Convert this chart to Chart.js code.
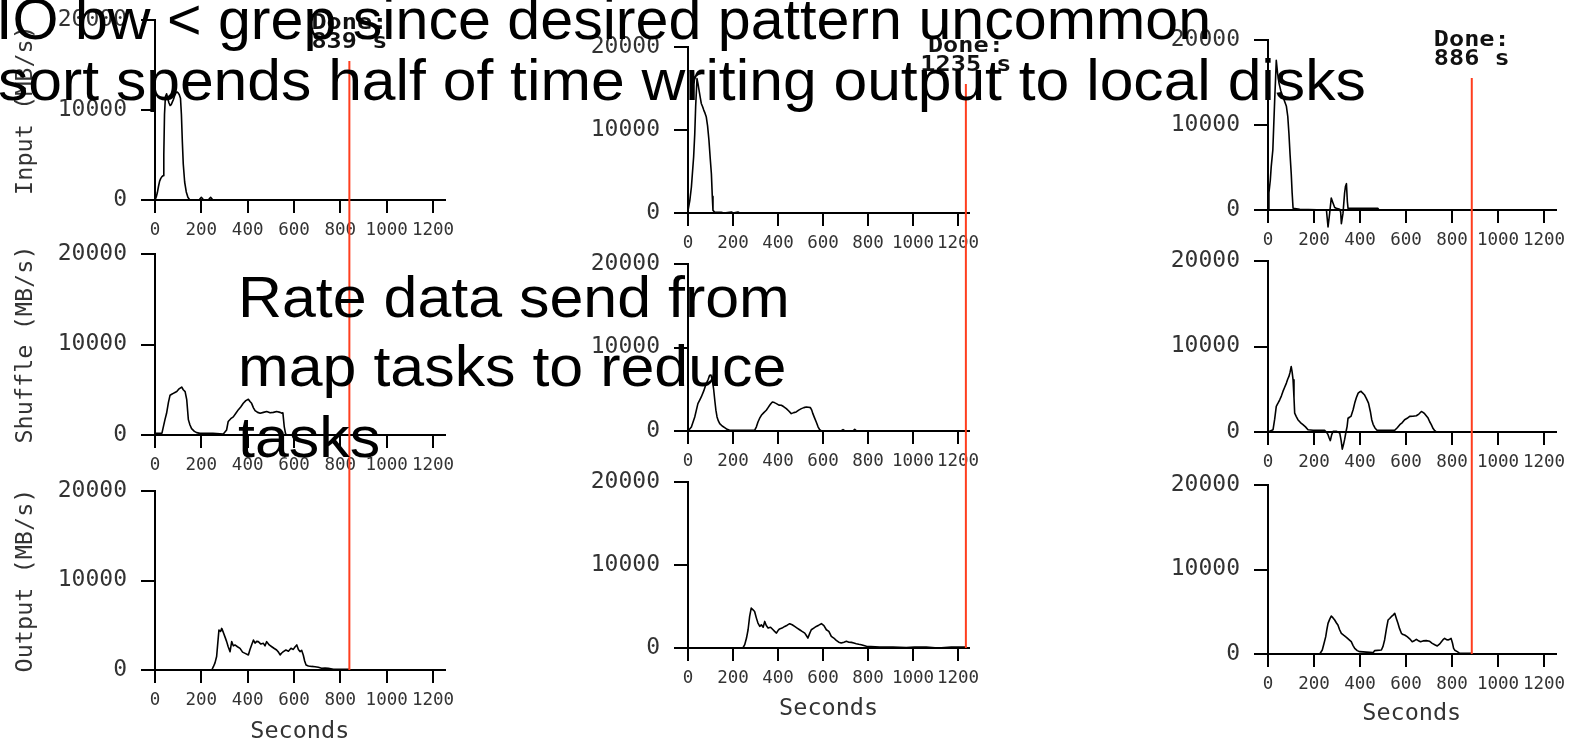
<!DOCTYPE html>
<html>
<head>
<meta charset="utf-8">
<script src="https://cdn.jsdelivr.net/npm/chart.js@4.4.1/dist/chart.umd.min.js"></script>
<style>
html,body{margin:0;padding:0;background:#fff;}
body{width:1573px;height:747px;position:relative;overflow:hidden;}
canvas{position:absolute;}
.note{position:absolute;font-family:'Liberation Sans',Arial,sans-serif;font-size:58px;line-height:58px;white-space:nowrap;color:#000;transform-origin:0 0;z-index:10;}
</style>
</head>
<body>
<div class="note" style="left:-4px;top:-10px;transform:scaleX(1.02)">IO bw &lt; grep since desired pattern uncommon</div>
<div class="note" style="left:-2px;top:51px;transform:scaleX(1.045)">sort spends half of time writing output to local disks</div>
<div class="note" style="left:238px;top:268px;transform:scaleX(1.05)">Rate data send from</div>
<div class="note" style="left:238px;top:337px;transform:scaleX(1.05)">map tasks to reduce</div>
<div class="note" style="left:238px;top:408px;transform:scaleX(1.05)">tasks</div>
<script>
// ---------- data (seconds, MB/s) ----------
const xTicks = [0, 200, 400, 600, 800, 1000, 1200];
const yTicks = [0, 10000, 20000];
const rowLabels = ['Input (MB/s)', 'Shuffle (MB/s)', 'Output (MB/s)'];
const xTitle = 'Seconds';
const doneTimes = [839, 1235, 886];
const doneTitle = 'Done:';

// (a) normal execution
const normalInputT = [0,5,10,15,20,25,30,35,38,41,45,50,55,60,65,70,75,80,85,90,95,100,105,110,114,118,122,128,135,142,150,190,200,210,230,240,250];
const normalInputV = [0,300,800,1500,2100,2400,2600,2700,5000,9500,11500,11800,11300,10800,10500,10600,10900,11200,11600,11900,12000,11900,11700,11300,9500,6500,4000,2000,900,300,0,0,300,0,0,300,0];
const normalShuffleT = [0,30,36,43,50,58,65,72,79,86,94,104,115,122,130,137,144,151,158,170,180,194,250,295,309,316,327,338,349,360,370,381,392,403,410,417,425,432,443,454,468,482,497,511,525,540,548,552,558,564,570];
const normalShuffleV = [200,200,900,1700,2400,3600,4400,4500,4600,4700,4800,5100,5300,5000,4800,3900,1700,1100,700,400,260,180,180,100,550,1500,1800,2000,2400,2800,3100,3500,3800,3950,3700,3500,3000,2700,2500,2400,2500,2600,2450,2500,2600,2500,2400,2450,900,100,0];
const normalOutputT = [0,245,252,259,266,271,276,283,288,295,302,309,316,324,331,338,345,356,367,378,389,403,410,417,425,432,439,446,457,468,475,482,493,504,515,525,533,540,547,554,565,576,587,597,605,612,619,626,633,640,646,652,662,676,691,705,719,734,748,770,805,839];
const normalOutputV = [0,0,370,800,1500,3000,4470,4300,4650,4200,3700,3200,2600,2050,3170,2700,2800,2600,2420,2000,1860,1680,2300,2800,3350,3000,3200,3170,2900,2980,2700,3170,2800,2600,2400,2230,2000,1680,1900,2050,2230,2100,2420,2300,2600,2800,2300,2050,2200,1680,1000,560,450,400,370,300,190,220,190,75,75,75];

// (b) no backup tasks
const noBackupInputT = [0,8,15,25,30,34,40,45,49,54,59,65,70,76,81,87,93,99,104,108,111,119,148,160,193,200,222,230,240];
const noBackupInputV = [300,1500,3100,6750,9500,12800,16200,15500,14800,14000,13200,12800,12400,12000,11600,10500,8800,6500,4700,2000,320,80,80,0,120,0,120,0,0];
const noBackupShuffleT = [0,15,30,44,52,59,70,81,90,96,102,108,114,119,124,129,135,141,152,163,174,185,267,296,304,311,318,326,337,348,356,363,369,375,384,393,404,415,426,437,448,459,470,481,492,504,515,526,535,544,550,555,562,570,578,585,593,680,689,698,733,741,750];
const noBackupShuffleV = [0,480,1680,3280,3700,4080,4800,5680,6200,6680,6700,6080,5000,3680,2500,1680,1200,880,600,400,200,80,80,80,500,1080,1500,1880,2200,2480,2800,3080,3300,3480,3400,3280,3100,3080,2900,2680,2400,2080,2200,2280,2500,2680,2800,2880,2850,2800,2500,2080,1600,1080,500,160,0,0,160,0,0,200,0];
const noBackupOutputT = [0,244,252,260,267,274,281,289,296,304,311,319,326,334,341,348,356,367,378,385,393,400,407,418,430,441,452,463,474,485,496,507,519,526,533,540,548,559,570,581,593,604,615,626,637,648,659,670,681,693,704,715,726,737,748,759,770,793,852,911,970,1007,1059,1111,1170,1237];
const noBackupOutputV = [0,0,400,1200,2200,3800,4800,4600,4400,3600,3000,2600,2800,2500,3200,2700,2400,2500,2200,2000,1800,2100,2300,2400,2600,2750,2930,2800,2600,2400,2200,2000,1800,1500,1200,1700,2200,2400,2600,2750,2930,2700,2200,2000,1400,1200,920,700,600,700,800,700,680,600,520,450,400,200,120,120,40,120,120,0,120,120];

// (c) 200 tasks killed
const killedInputT = [0,4,10,14,21,25,29,33,36,42,48,56,65,72,80,86,91,96,101,105,109,138,250,254,261,268,275,283,290,297,312,316,319,326,333,337,341,345,348,362,478,482];
const killedInputV = [0,2000,3500,5100,7060,10000,12900,15500,17600,16000,14900,14000,13300,12800,12200,11000,9000,6500,4300,2000,200,80,0,0,-2000,-400,1400,800,300,200,80,-300,-1600,-400,2000,2800,3100,1000,200,200,200,0];
const killedShuffleT = [0,22,29,36,44,51,58,65,72,80,86,91,96,101,105,109,113,116,123,130,141,152,163,174,196,246,254,261,266,271,277,283,297,312,318,323,328,333,339,344,348,352,361,370,377,384,392,399,405,410,419,428,437,445,451,457,465,474,493,551,562,573,584,594,605,616,630,645,656,667,674,681,688,696,703,710,718,725,732];
const killedShuffleV = [0,270,1500,3000,3400,3770,4200,4750,5200,5720,6200,6500,7000,7660,7000,6100,4000,2200,1800,1440,1100,860,600,270,200,200,0,-310,-700,-1000,-300,80,80,-120,-1000,-2000,-1500,-900,0,660,1630,1700,1830,2600,3380,4000,4550,4700,4750,4600,4360,3900,3380,2400,1440,900,470,200,200,200,500,860,1100,1440,1600,1830,1850,1900,2100,2400,2300,2140,1900,1630,1200,860,400,150,0];
const killedOutputT = [0,225,236,244,251,256,261,268,275,282,290,297,304,311,319,330,341,352,362,370,377,388,399,457,464,493,500,507,515,522,529,536,544,551,558,565,572,580,587,594,605,616,627,638,645,652,663,674,688,703,714,725,736,747,754,761,768,776,783,790,796,802,807,812,823,834,848,884];
const killedOutputV = [0,0,470,1300,2050,2900,3630,4100,4500,4300,4020,3700,3430,2900,2450,2200,1970,1700,1460,1000,670,400,280,160,400,470,900,1660,3000,4020,4200,4420,4600,4810,4200,3630,3000,2450,2300,2250,2050,1800,1460,1600,1740,1600,1460,1550,1580,1500,1260,1100,950,1200,1460,1700,1850,1700,1660,1750,1850,1300,670,450,280,80,80,80];

const panels = [
  [[normalInputT, normalInputV], [normalShuffleT, normalShuffleV], [normalOutputT, normalOutputV]],
  [[noBackupInputT, noBackupInputV], [noBackupShuffleT, noBackupShuffleV], [noBackupOutputT, noBackupOutputV]],
  [[killedInputT, killedInputV], [killedShuffleT, killedShuffleV], [killedOutputT, killedOutputV]]
];

// ---------- layout (pixels, styling only) ----------
const X_MAX = 1250, Y_MAX = 20000;
const layoutCols = [
  {left: 0,    width: 480, axisX: 155,  px1200: 433,  doneOffset: 41, secondsY: 732,
   rows: [{top: 0, bottom: 242, yTop: 20, yZero: 200}, {top: 242, bottom: 477, yTop: 254, yZero: 435}, {top: 477, bottom: 747, yTop: 491, yZero: 670}]},
  {left: 560,  width: 460, axisX: 688,  px1200: 958,  doneOffset: 37, secondsY: 709,
   rows: [{top: 0, bottom: 251, yTop: 47, yZero: 213}, {top: 251, bottom: 469, yTop: 264, yZero: 431}, {top: 469, bottom: 747, yTop: 482, yZero: 648}]},
  {left: 1140, width: 433, axisX: 1268, px1200: 1544, doneOffset: 38, secondsY: 714,
   rows: [{top: 0, bottom: 249, yTop: 40, yZero: 210}, {top: 249, bottom: 472, yTop: 261, yZero: 432}, {top: 472, bottom: 747, yTop: 485, yZero: 654}]}
];

const MONO = '"DejaVu Sans Mono", monospace';
const TEXT_GRAY = '#333';
const TITLE_SIZE = 23.5;

const doneLine = {
  id: 'doneLine',
  afterDraw(chart, args, o) {
    const ctx = chart.ctx;
    const x = chart.scales.x.getPixelForValue(o.t);
    const y1 = o.row === 0 ? chart.chartArea.top + o.offset : 0;
    const y2 = o.row === 2 ? chart.scales.y.getPixelForValue(0) : chart.height;
    ctx.save();
    ctx.strokeStyle = 'rgb(255,62,30)';
    ctx.lineWidth = 2;
    ctx.beginPath(); ctx.moveTo(x, y1); ctx.lineTo(x, y2); ctx.stroke();
    if (o.row === 0) {
      ctx.fillStyle = '#111';
      ctx.font = 'bold 21px ' + MONO;
      ctx.textAlign = 'center';
      ctx.textBaseline = 'middle';
      [[o.title, 37], [o.value, 18]].forEach(([s, d]) => {
        ctx.save(); ctx.translate(x, y1 - d); ctx.scale(1.2, 1); ctx.fillText(s, 0, 0); ctx.restore();
      });
    }
    ctx.restore();
  }
};

layoutCols.forEach((col, c) => {
  const px1250 = col.axisX + (col.px1200 - col.axisX) * X_MAX / 1200;
  const padRight = col.left + col.width - px1250;
  col.rows.forEach((row, r) => {
    const cv = document.createElement('canvas');
    const h = row.bottom - row.top;
    cv.width = col.width; cv.height = h;
    cv.style.left = col.left + 'px'; cv.style.top = row.top + 'px';
    cv.style.width = col.width + 'px'; cv.style.height = h + 'px';
    document.body.appendChild(cv);
    const [ts, vs] = panels[c][r];
    const yW = col.axisX - col.left;
    const xH = row.bottom - row.yZero;
    const secOffset = row.bottom - col.secondsY;
    new Chart(cv, {
      type: 'line',
      data: {
        datasets: [{
          data: ts.map((t, i) => ({x: t, y: vs[i]})),
          borderColor: '#000', borderWidth: 1.6, pointRadius: 0, tension: 0,
          fill: false, clip: false, borderJoinStyle: 'round'
        }]
      },
      options: {
        responsive: false, animation: false, devicePixelRatio: 1,
        layout: {padding: {left: 0, top: row.yTop - row.top, right: padRight, bottom: 0}},
        plugins: {
          legend: {display: false}, tooltip: {enabled: false},
          doneLine: {t: doneTimes[c], row: r, offset: col.doneOffset, title: doneTitle, value: doneTimes[c] + ' s'}
        },
        scales: {
          x: {
            type: 'linear', min: 0, max: X_MAX,
            afterBuildTicks: s => { s.ticks = xTicks.map(v => ({value: v})); },
            afterFit: s => { s.height = xH; s.paddingLeft = 0; s.paddingRight = 0; },
            grid: {drawOnChartArea: false, drawTicks: true, tickLength: 13, color: '#000', lineWidth: 2},
            border: {display: true, color: '#000', width: 2},
            ticks: {font: {family: MONO, size: 17.5}, color: TEXT_GRAY, padding: 7, maxRotation: 0, autoSkip: false,
                    callback: v => String(v)},
            title: {display: r === 2, text: xTitle, color: TEXT_GRAY, font: {family: MONO, size: TITLE_SIZE},
                    padding: {top: 0, bottom: secOffset - TITLE_SIZE * 0.6}}
          },
          y: {
            type: 'linear', min: 0, max: Y_MAX,
            afterBuildTicks: s => { s.ticks = yTicks.map(v => ({value: v})); },
            afterFit: s => { s.width = yW; s.paddingTop = 0; s.paddingBottom = 0; },
            grid: {drawOnChartArea: false, drawTicks: true, tickLength: 14, color: '#000', lineWidth: 2},
            border: {display: true, color: '#000', width: 2},
            ticks: {font: {family: MONO, size: 23}, color: TEXT_GRAY, padding: 14, callback: v => String(v)},
            title: {display: c === 0, text: rowLabels[r], color: TEXT_GRAY, font: {family: MONO, size: TITLE_SIZE},
                    padding: {top: 26 - TITLE_SIZE * 0.6, bottom: 0}}
          }
        }
      },
      plugins: [doneLine]
    });
  });
});
</script>
</body>
</html>
